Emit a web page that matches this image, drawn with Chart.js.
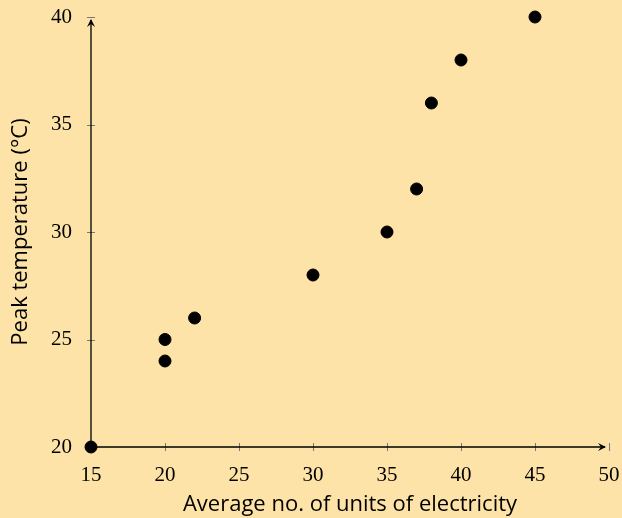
<!DOCTYPE html>
<html lang="en">
  <head>
    <meta charset="UTF-8" />
    <title>Electricity vs temperature</title>
    <style>
      html, body { margin: 0; padding: 0; background: #fde3a7; }
      #wrap { width: 622px; height: 518px; }
    </style>
  </head>
  <body>
    <div id="wrap">
      <canvas id="myChart"></canvas>
    </div>

    <script src="https://cdn.jsdelivr.net/npm/chart.js"></script>
    <script>
      const units = [15, 20, 20, 22, 30, 35, 37, 38, 40, 45];
      const temps = [20, 24, 25, 26, 28, 30, 32, 36, 38, 40];
      const xTicks = [15, 20, 25, 30, 35, 40, 45, 50];
      const yTicks = [20, 25, 30, 35, 40];

      const points = units.map((u, i) => ({ x: u, y: temps[i] }));

      // axis lines with arrow heads and little crossing tick marks
      const axisArrows = {
        id: "axisArrows",
        beforeDatasetsDraw(chart) {
          const { ctx, scales } = chart;
          const x = scales.x, y = scales.y;
          const x0 = x.getPixelForValue(15), x1 = x.getPixelForValue(50);
          const y0 = y.getPixelForValue(20), y1 = y.getPixelForValue(40);
          ctx.save();
          // ticks
          ctx.strokeStyle = "#777";
          ctx.lineWidth = 1;
          xTicks.forEach((v) => {
            const px = Math.round(x.getPixelForValue(v)) + 0.5;
            ctx.beginPath();
            ctx.moveTo(px, y0 - 4);
            ctx.lineTo(px, y0 + 4);
            ctx.stroke();
          });
          yTicks.forEach((v) => {
            const py = Math.round(y.getPixelForValue(v)) + 0.5;
            ctx.beginPath();
            ctx.moveTo(x0 - 4, py);
            ctx.lineTo(x0 + 4, py);
            ctx.stroke();
          });
          // axes
          ctx.strokeStyle = "#000";
          ctx.lineWidth = 1.3;
          ctx.beginPath();
          ctx.moveTo(x0, y0);
          ctx.lineTo(x1 - 4, y0);
          ctx.moveTo(x0, y0);
          ctx.lineTo(x0, y1 + 3);
          ctx.stroke();
          // arrow heads
          ctx.fillStyle = "#000";
          ctx.beginPath();
          ctx.moveTo(x1 - 3, y0);
          ctx.lineTo(x1 - 11, y0 - 4);
          ctx.lineTo(x1 - 8, y0);
          ctx.lineTo(x1 - 11, y0 + 4);
          ctx.closePath();
          ctx.fill();
          ctx.beginPath();
          ctx.moveTo(x0, y1 + 2);
          ctx.lineTo(x0 - 4, y1 + 10);
          ctx.lineTo(x0, y1 + 7);
          ctx.lineTo(x0 + 4, y1 + 10);
          ctx.closePath();
          ctx.fill();
          ctx.restore();
        },
      };

      const config = {
        type: "scatter",
        data: {
          datasets: [
            {
              data: points,
              backgroundColor: "#000",
              borderColor: "#000",
              pointRadius: 6,
              pointHoverRadius: 6,
              clip: false,
            },
          ],
        },
        options: {
          responsive: true,
          maintainAspectRatio: false,
          animation: false,
          layout: {
            padding: { top: 17, right: 13, bottom: 0, left: 0 },
          },
          plugins: {
            legend: { display: false },
            tooltip: { enabled: false },
          },
          scales: {
            x: {
              type: "linear",
              min: 15,
              max: 50,
              afterBuildTicks: (s) => { s.ticks = xTicks.map((v) => ({ value: v })); },
              afterFit: (s) => {
                s.height = 71;
                s.paddingLeft = 0;
                s.paddingRight = 0;
              },
              grid: { display: false },
              border: { display: false },
              ticks: {
                padding: 8,
                color: "#000",
                font: { family: "Liberation Serif", size: 21 },
              },
              title: {
                display: true,
                text: "Average no. of units of electricity",
                color: "#000",
                font: { family: "Open Sans", size: 22 },
                padding: { top: 0, bottom: 0 },
              },
            },
            y: {
              type: "linear",
              min: 20,
              max: 40,
              afterBuildTicks: (s) => { s.ticks = yTicks.map((v) => ({ value: v })); },
              afterFit: (s) => {
                s.width = 91;
                s.paddingTop = 0;
                s.paddingBottom = 0;
              },
              grid: { display: false },
              border: { display: false },
              ticks: {
                padding: 11,
                color: "#000",
                font: { family: "Liberation Serif", size: 21 },
              },
              title: {
                display: true,
                text: "Peak temperature (°C)",
                color: "#000",
                font: { family: "Open Sans", size: 22 },
                padding: { top: 8, bottom: 0 },
              },
            },
          },
        },
        plugins: [axisArrows],
      };

      const myChart = new Chart(document.getElementById("myChart"), config);
    </script>
  </body>
</html>
